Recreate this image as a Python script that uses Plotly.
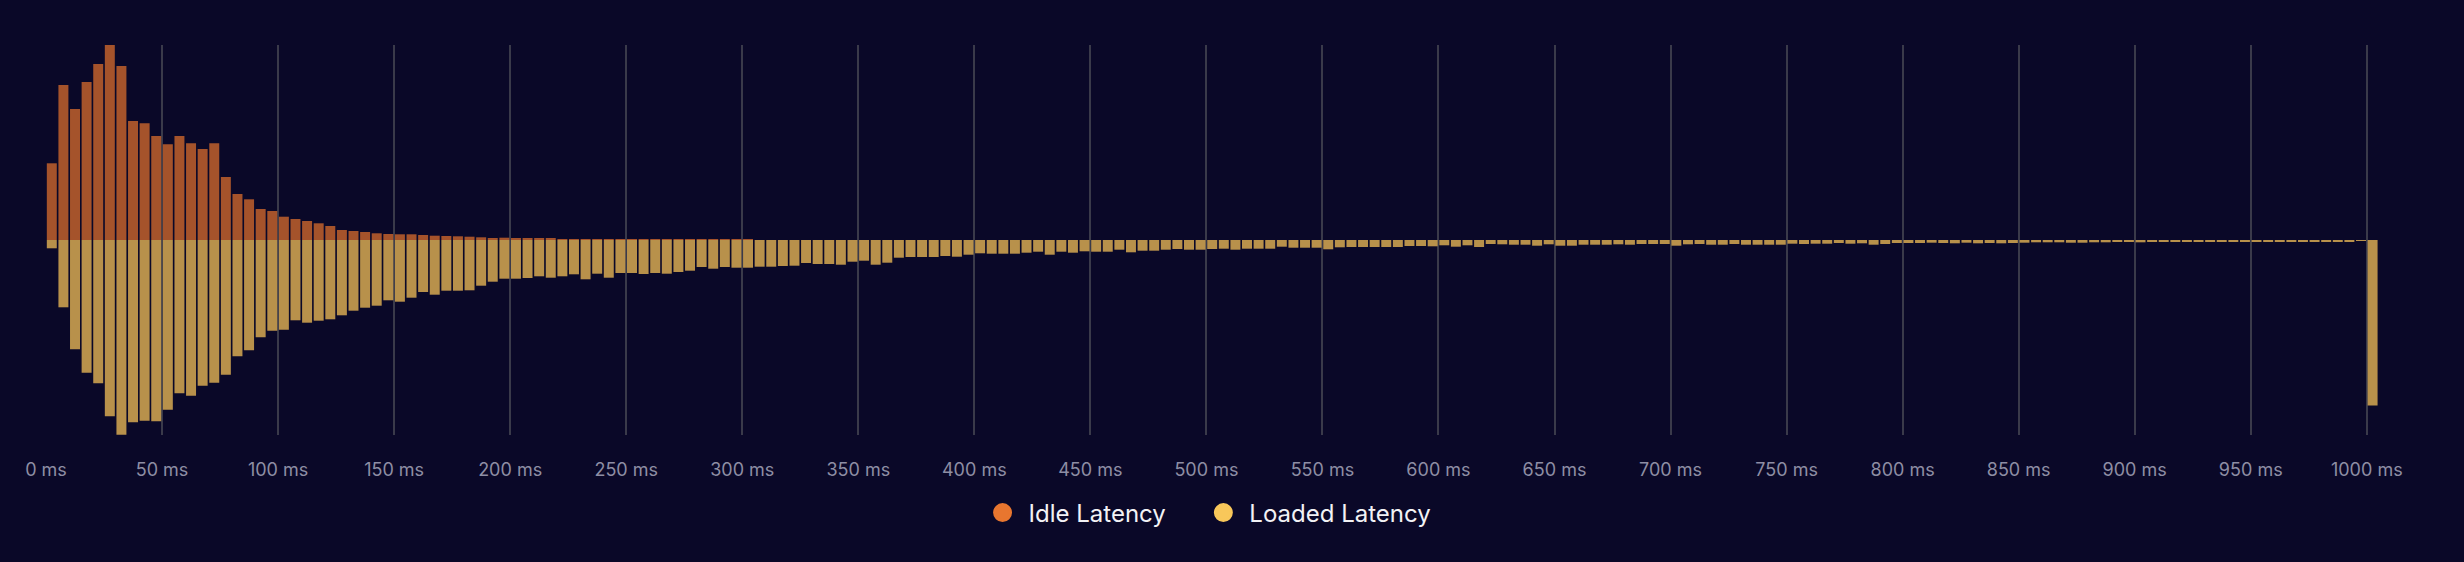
import plotly.graph_objects as go

# Histogram bins (bin start, ms); the last bin (1000) holds everything above 1000 ms
bin_start_ms = list(range(0, 1005, 5))

# Idle latency sample share per bin (relative units)
idle_latency = [
    76.7, 155, 131, 158, 176, 195, 174, 119, 116.7, 104, 95.7, 104, 96.7, 91, 96.7,
    63, 46, 40.7, 31, 29, 23.3, 21, 19, 16.7, 14, 10, 9, 8, 6.7, 6, 5.7, 5.7, 5,
    4.3, 4, 3.7, 3.3, 2.7, 2, 2.3, 2, 1.7, 1.7, 1.3, 1, 1,
    0.7, 0.7, 0.7, 0.5, 0.5, 0.5, 0.5, 0.5, 0.7, 0.7, 0.3, 0.3, 0.3, 0.3, 0.3,
] + [0] * 140

# Loaded latency sample share per bin (relative units)
loaded_latency = [
    8.3, 67.3, 109.3, 132.7, 143.3, 176.3, 194.7, 182.3, 180.7, 181.3,
    169.7, 153.3, 155.7, 145.7, 142.7, 134.7, 116.3, 110.3, 97.3, 90.7,
    89.7, 80.3,
    82.7, 80.7, 79.3, 75.3, 70.7, 67.7, 65.7, 60.3, 61.7, 57.7,
    52, 54.7, 50.7, 50.7, 50.3, 45.7, 41.7, 38.7, 38.7, 38,
    36.3, 37.7, 36.3, 34.3,
    39.3, 33.7, 37.7, 33, 33, 34, 33, 33.7, 32, 30.7,
    27, 28.7, 27, 27.7, 27.7, 26.7, 26.7, 26, 25.7, 23,
    24, 24, 24.7, 21.7, 20.7, 24.7, 22.7, 17.7, 17, 17,
    17, 16, 16.7,
    14.7, 13.3, 13.7, 13.7, 13.7, 12.7, 11.7, 14.7, 11.7, 12.7,
    11.3, 11.7, 11.7, 9.7, 12.3, 10.7, 10.7, 9.7, 9, 9.7,
    9.7, 9, 8.7, 9.7, 8.7, 8.7, 8.7, 6.7, 7.7, 7.7,
    7.7, 9.3, 7.3, 7, 7, 7, 7, 7, 6, 6,
    6.3, 5.3,
    6.7, 5.3, 7, 4, 4.3, 4.7, 4.7, 5.7, 4.3, 5.7,
    5.7, 4.7, 4.7, 4.7, 4.3, 4.7, 4, 4, 4, 5.7,
    4.3, 4, 4.7, 4.7, 4, 4.7, 4.7, 4.7, 4.7, 3.7,
    4, 3.7, 3.7, 3, 3.7, 3.3, 4.7, 4, 3, 3,
    3, 2.7,
    3, 3.3, 2.7, 3.3, 3, 3.3, 3, 2.7, 2.3, 2.3,
    2.3, 2.7, 2.7, 2.3, 2.3, 1.7, 1.7, 2.3, 2, 1.3,
    2, 2, 2, 2, 1.3, 2, 2, 2, 1.3, 2,
    2, 2, 1.5, 2, 2, 1.3, 1,
    165.5,
]

tick_values = list(range(0, 1001, 50))
tick_labels = [f"{v} ms" for v in tick_values]

series_names = ["Idle Latency", "Loaded Latency"]
legend_colors = ["#E8762F", "#F8C75A"]
bar_colors = ["#A5532B", "#B8914B"]

BG = "#0A0828"
BIN_W = 5

centers = [b + BIN_W / 2 for b in bin_start_ms]

fig = go.Figure()
fig.add_trace(go.Bar(
    x=centers, y=idle_latency, width=4.3, marker=dict(color=bar_colors[0], line=dict(width=0)),
    name=series_names[0], showlegend=False, hoverinfo="x+y",
))
fig.add_trace(go.Bar(
    x=centers, y=[-v for v in loaded_latency], width=4.3,
    marker=dict(color=bar_colors[1], line=dict(width=0)),
    name=series_names[1], showlegend=False, hoverinfo="x+y",
))
# legend entries (circles), each in its own legend box for exact spacing
for name, col, lg in zip(series_names, legend_colors, ["legend", "legend2"]):
    fig.add_trace(go.Scatter(
        x=[None], y=[None], mode="markers", name=name, legend=lg,
        marker=dict(symbol="circle", size=16, color=col, line=dict(width=3, color=col)),
    ))

legend_common = dict(
    orientation="h", xanchor="left", y=-0.20, yanchor="middle",
    font=dict(size=24, color="#F2F2F5"), bgcolor="rgba(0,0,0,0)",
    itemwidth=42,
)

fig.update_layout(
    width=2464, height=562,
    paper_bgcolor=BG, plot_bgcolor=BG,
    margin=dict(l=46, r=74, t=45, b=127),
    barmode="overlay",
    font=dict(family="Inter, 'Noto Sans', sans-serif", color="#F2F2F5"),
    showlegend=True,
    legend=dict(x=0.3970, **legend_common),
    legend2=dict(x=0.4912, **legend_common),
    xaxis=dict(
        range=[0, 1010], tickmode="array", tickvals=tick_values, ticktext=tick_labels,
        showgrid=True, gridcolor="#3A3A4A", gridwidth=1.5, zeroline=False,
        showline=False, ticks="outside", ticklen=18, tickcolor="rgba(0,0,0,0)",
        tickfont=dict(size=18, color="#8E8EA4"),
    ),
    yaxis=dict(
        range=[-195, 195], showgrid=False, zeroline=False, showticklabels=False,
        showline=False, ticks="",
    ),
)

fig.write_html(
    "out.html",
    config={"displayModeBar": False},
    post_script="document.body.style.margin='0';document.body.style.background='%s';" % BG,
)
